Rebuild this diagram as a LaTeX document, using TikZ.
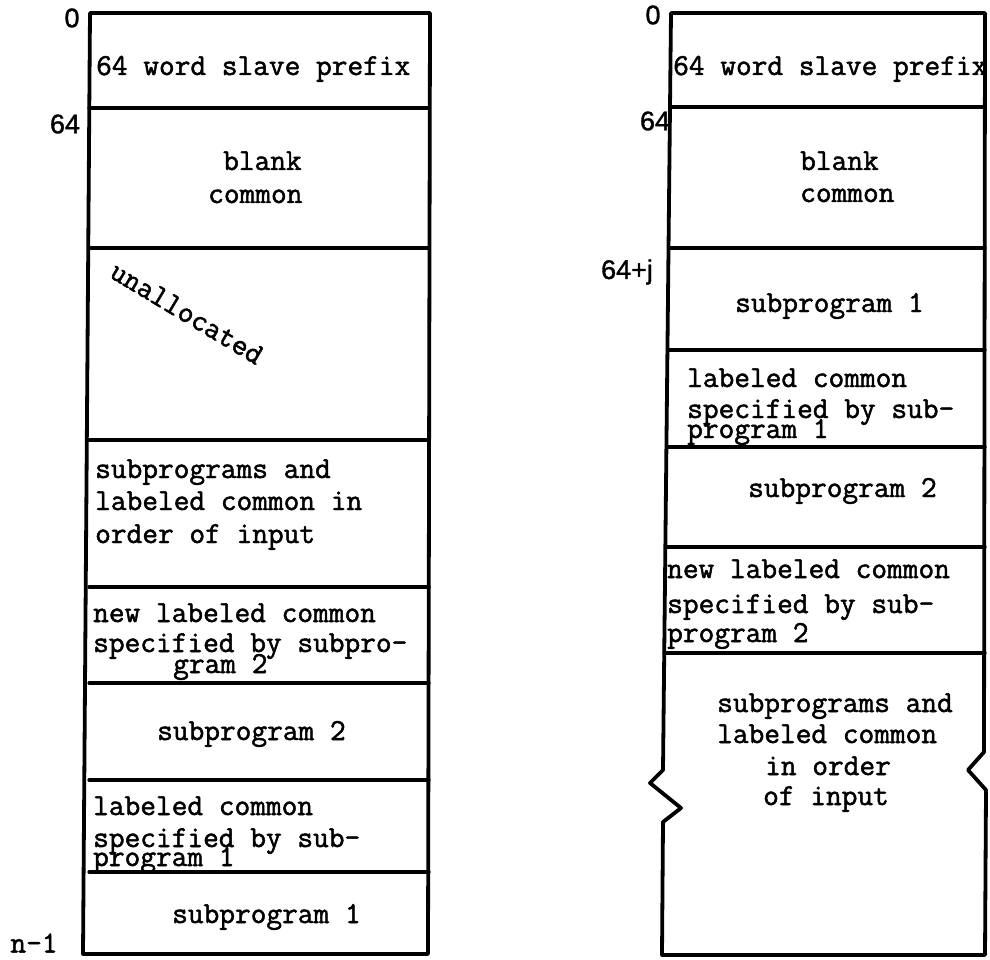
\documentclass[tikz,border=0pt]{standalone}
\usepackage{fontspec}
\newfontfamily\twfont{Latin Modern Mono}[FakeBold=1.6]
\newfontfamily\labfont{Liberation Sans}[FakeBold=1.2]
\tikzset{
  twbase/.style={inner sep=0pt, font=\twfont\fontsize{30.5}{36}\selectfont},
  tw/.style={twbase, anchor=base west},
  lab/.style={inner sep=0pt, anchor=center, font=\labfont\fontsize{27}{30}\selectfont},
  border/.style={line width=3.8pt, line cap=round, line join=round},
  sep/.style={line width=3.2pt, line cap=round}
}
\begin{document}
\begin{tikzpicture}[x=1pt,y=-1pt]
\useasboundingbox (0,0) rectangle (990,960);
% ---------------- left column ----------------
\coordinate (LTL) at (90,13);
\coordinate (LTR) at (430,13);
\coordinate (LBL) at (83,954);
\coordinate (LBR) at (428,954);
\draw[border] (LTL) -- (LTR) -- (LBR) -- (LBL) -- cycle;
\foreach \yy in {108,248,440,587,683,780,872}
  \draw[sep] (89,\yy) -- (429,\yy);

\node[lab] (l0) at (72,18) {0};
\node[lab] (l64) at (65,124) {64};
\node[twbase, anchor=center] (ln1) at (34,943) {n-1};

\node[tw] (a1) at (96,75) {64 word slave prefix};
\node[tw] (a2) at (223,170) {blank};
\node[tw] (a3) at (208,203) {common};
\node[twbase, rotate=-31] (a4) at (187,313) {unallocated};
\node[tw] (a5) at (95,478) {subprograms and};
\node[tw] (a6) at (95,510) {labeled common in};
\node[tw] (a7) at (95,543) {order of input};
\node[tw] (a8) at (93,622) {new labeled common};
\node[tw] (a9) at (93,652) {specified by subpro-};
\node[tw] (a10) at (173,673) {gram 2};
\node[tw] (a11) at (157,740) {subprogram 2};
\node[tw] (a12) at (93,815) {labeled common};
\node[tw] (a13) at (93,847) {specified by sub-};
\node[tw] (a14) at (93,866) {program 1};
\node[tw] (a15) at (172,923) {subprogram 1};

% ---------------- right column ----------------
\node[tw] (b1) at (673,75) {64 word slave prefix};
\fill[white] (988,20) rectangle (990,100);
\draw[border] (663,822) -- (662,955) -- (985,955) -- (986,790) -- (968,770) -- (984,752) -- (985,13) -- (671,13) -- (663,770) -- (650,783) -- (681,808) -- cycle;
\foreach \yy/\xa/\xb in {107/671/985, 248/670/985, 350/668/985, 447/667/985, 547/666/985, 653/664/985}
  \draw[sep] (\xa,\yy) -- (\xb,\yy);

\node[lab] (r0) at (653,15) {0};
\node[lab] (r64) at (655,121) {64};
\node[lab] (r64j) at (627,272) {64+j};

\node[tw] (b2) at (800,170) {blank};
\node[tw] (b3) at (800,202) {common};
\node[tw] (b4) at (735,312) {subprogram 1};
\node[tw] (b5) at (687,387) {labeled common};
\node[tw] (b6) at (687,418) {specified by sub-};
\node[tw] (b7) at (687,438) {program 1};
\node[tw] (b8) at (748,497) {subprogram 2};
\node[tw] (b9) at (667,578) {new labeled common};
\node[tw] (b10) at (667,613) {specified by sub-};
\node[tw] (b11) at (667,642) {program 2};
\node[tw] (b12) at (717,712) {subprograms and};
\node[tw] (b13) at (717,743) {labeled common};
\node[tw] (b14) at (765,775) {in order};
\node[tw] (b15) at (763,805) {of input};
\end{tikzpicture}
\end{document}
